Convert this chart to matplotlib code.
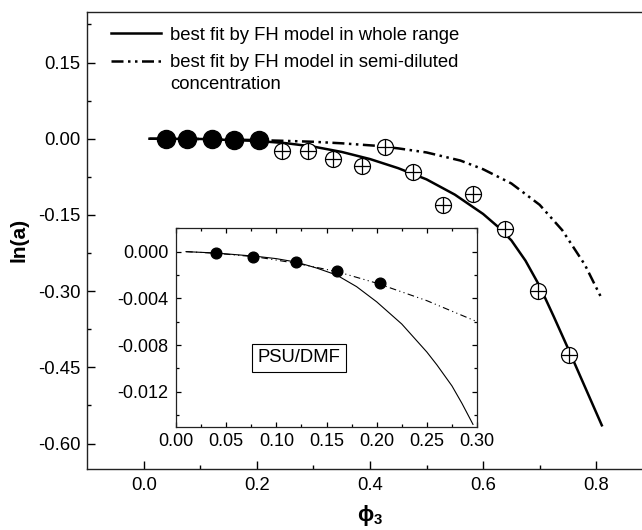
import matplotlib
matplotlib.use("Agg")
import matplotlib.pyplot as plt
from matplotlib.ticker import MultipleLocator, FixedLocator, FormatStrFormatter

plt.rcParams['font.family'] = ['Liberation Sans', 'DejaVu Sans']
plt.rcParams['axes.unicode_minus'] = False
plt.rcParams['mathtext.fontset'] = 'custom'
plt.rcParams['mathtext.bf'] = 'Liberation Sans:bold'
plt.rcParams['mathtext.rm'] = 'Liberation Sans'

# ---- data ----
# PSU/DMF filled points (low concentration)
filled_x = [0.040, 0.077, 0.120, 0.160, 0.203]
filled_y = [-0.00014, -0.00043, -0.00091, -0.00163, -0.00271]

# open (crossed) points
open_x = [0.245, 0.290, 0.335, 0.386, 0.427, 0.476, 0.529, 0.583, 0.639, 0.697, 0.752]
open_y = [-0.024, -0.024, -0.040, -0.053, -0.017, -0.066, -0.130, -0.109, -0.1775, -0.300, -0.425]

# best fit whole range (solid)
fit_all_x = [0.01, 0.10, 0.20, 0.25, 0.30, 0.35, 0.40, 0.45, 0.50, 0.55, 0.60, 0.625,
             0.65, 0.675, 0.70, 0.725, 0.75, 0.78, 0.81]
fit_all_y = [0.0, -0.0005, -0.0043, -0.0086, -0.0155, -0.026, -0.040, -0.058, -0.080, -0.110, -0.148, -0.172,
             -0.200, -0.240, -0.290, -0.350, -0.412, -0.488, -0.564]

# best fit semi-diluted (dash-dot-dot)
fit_semi_x = [0.01, 0.10, 0.20, 0.25, 0.30, 0.35, 0.41, 0.45, 0.50, 0.56, 0.60, 0.65, 0.70, 0.74, 0.78, 0.81]
fit_semi_y = [0.0, -0.0005, -0.0027, -0.0042, -0.0060, -0.0090, -0.0138, -0.019, -0.027, -0.043, -0.060, -0.088,
              -0.130, -0.180, -0.248, -0.315]

# inset curves
inset_all_x = [0.01, 0.04, 0.08, 0.10, 0.12, 0.14, 0.16, 0.18, 0.20, 0.225, 0.25, 0.26, 0.275, 0.285, 0.296]
inset_all_y = [0.0, -0.00012, -0.0004, -0.0006, -0.0009, -0.0014, -0.0020, -0.0030, -0.0043, -0.0062,
               -0.0086, -0.0097, -0.0115, -0.0130, -0.0148]
inset_semi_x = [0.01, 0.04, 0.08, 0.12, 0.16, 0.20, 0.25, 0.30]
inset_semi_y = [0.0, -0.00014, -0.00045, -0.0010, -0.0017, -0.0027, -0.0042, -0.0060]

label_all = 'best fit by FH model in whole range'
label_semi = 'best fit by FH model in semi-diluted'
label_semi_2 = 'concentration'
inset_label = 'PSU/DMF'

W, H = 642, 530
FS = 13.3
fig = plt.figure(figsize=(W / 100, H / 100), dpi=100)

# main axes
ax = fig.add_axes([87.3 / W, 61 / H, (652.7 - 87.3) / W, (469 - 11.7) / H])
ax.set_xlim(-0.1, 0.9)
ax.set_ylim(-0.65, 0.25)

dd_main = (0, (4.8, 1.8, 1.0, 1.8, 1.0, 1.8))
ax.plot(fit_all_x, fit_all_y, color='black', lw=1.8, label=label_all, zorder=2)
ax.plot(fit_semi_x, fit_semi_y, color='black', lw=1.8, linestyle=dd_main, label=label_semi, zorder=2)
ax.plot(open_x, open_y, linestyle='none', marker='o', ms=11.5, mfc='white', mec='black', mew=0.9, zorder=3)
ax.plot(open_x, open_y, linestyle='none', marker='+', ms=11.5, mec='black', mew=0.9, zorder=4)
ax.plot(filled_x, filled_y, linestyle='none', marker='o', ms=13, mfc='black', mec='black', zorder=5)

ax.xaxis.set_major_locator(FixedLocator([0.0, 0.2, 0.4, 0.6, 0.8]))
ax.xaxis.set_minor_locator(FixedLocator([0.1, 0.3, 0.5, 0.7]))
ax.xaxis.set_major_formatter(FormatStrFormatter('%.1f'))
ax.yaxis.set_major_locator(FixedLocator([-0.60, -0.45, -0.30, -0.15, 0.0, 0.15]))
ax.yaxis.set_minor_locator(FixedLocator([-0.525, -0.375, -0.225, -0.075, 0.075, 0.225]))
ax.yaxis.set_major_formatter(FormatStrFormatter('%.2f'))
ax.tick_params(which='both', direction='in', top=False, right=False, labelsize=FS, width=1.0)
ax.tick_params(which='major', length=5.5)
ax.tick_params(which='minor', length=3)
ax.tick_params(axis='x', which='major', pad=5.5)
ax.tick_params(axis='y', which='major', pad=5)
for s in ax.spines.values():
    s.set_linewidth(1.0)
    s.set_color('#222222')

ax.set_ylabel('ln(a)', fontsize=15, fontweight='bold', labelpad=7)
ax.set_xlabel(r'$\mathbf{\phi_3}$', fontsize=15.5, labelpad=7)

leg = ax.legend(loc='upper left', bbox_to_anchor=(110.7 / W, 1 - 26.5 / H), bbox_transform=fig.transFigure,
                frameon=False, fontsize=FS, handlelength=2.7, handletextpad=0.5, labelspacing=0.58,
                borderpad=0, borderaxespad=0)

# inset axes
ins = fig.add_axes([176 / W, (H - 426.7) / H, (477 - 176) / W, (426.7 - 228.3) / H])
ins.set_xlim(0.0, 0.30)
ins.set_ylim(-0.015, 0.002)
dd_ins = (0, (6, 3, 1, 3, 1, 3))
ins.plot(inset_all_x, inset_all_y, color='black', lw=0.8)
ins.plot(inset_semi_x, inset_semi_y, color='black', lw=0.8, linestyle=dd_ins)
ins.plot(filled_x, filled_y, linestyle='none', marker='o', ms=7.7, mfc='black', mec='black', zorder=5)
ins.xaxis.set_major_locator(MultipleLocator(0.05))
ins.xaxis.set_minor_locator(MultipleLocator(0.025))
ins.xaxis.set_major_formatter(FormatStrFormatter('%.2f'))
ins.yaxis.set_major_locator(FixedLocator([-0.012, -0.008, -0.004, 0.0]))
ins.yaxis.set_minor_locator(FixedLocator([-0.014, -0.010, -0.006, -0.002, 0.002]))
ins.yaxis.set_major_formatter(FormatStrFormatter('%.3f'))
ins.tick_params(which='both', direction='in', top=True, right=True, labelsize=13, width=0.9)
ins.tick_params(which='major', length=3.5)
ins.tick_params(which='minor', length=2)
ins.tick_params(axis='x', pad=4.5)
ins.tick_params(axis='y', pad=5.5)
for s in ins.spines.values():
    s.set_linewidth(0.9)
    s.set_color('#222222')
ins.text(0.123, -0.0091, inset_label, fontsize=FS, ha='center', va='center',
         bbox=dict(boxstyle='square,pad=0.3', fc='white', ec='black', lw=0.8))

# second line of the second legend label, aligned under it
fig.canvas.draw()
t2 = leg.get_texts()[1]
bb = t2.get_window_extent()
fig.text(bb.x0 / W, (bb.y0 - 21.6) / H, label_semi_2, fontsize=FS, ha='left', va='bottom')

fig.savefig('out.png', dpi=100)
